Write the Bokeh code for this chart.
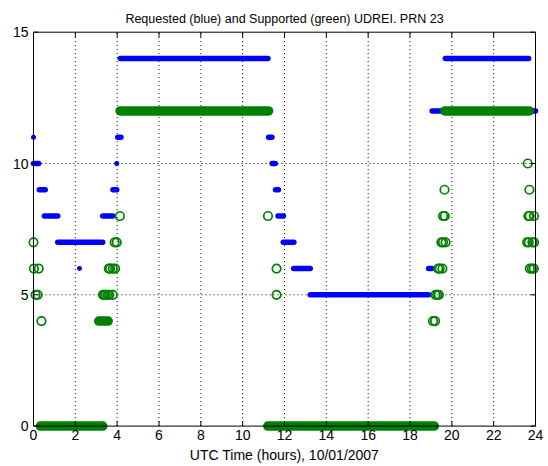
from bokeh.plotting import figure
from bokeh.models import Range1d, FixedTicker
from bokeh.embed import file_html
from bokeh.resources import INLINE

TITLE = "Requested (blue) and Supported (green) UDREI. PRN 23"
XLABEL = "UTC Time (hours), 10/01/2007"

x_ticks = [0, 2, 4, 6, 8, 10, 12, 14, 16, 18, 20, 22, 24]
y_ticks = [0, 5, 10, 15]

# Requested UDREI (blue): runs of constant value and isolated samples
blue_run_start = [0.00, 0.28, 0.52, 1.16, 3.31, 3.80, 4.03, 4.15, 11.24, 11.41,
                  11.57, 11.69, 11.94, 12.44, 13.23, 18.89, 19.06, 19.69]
blue_run_end = [0.25, 0.56, 1.16, 3.31, 3.79, 3.98, 4.18, 11.21, 11.40, 11.56,
                11.71, 11.95, 12.45, 13.23, 18.89, 19.05, 24.00, 23.67]
blue_run_udrei = [10, 9, 8, 7, 8, 9, 11, 14, 11, 10, 9, 8, 7, 6, 5, 6, 12, 14]
blue_pt_time = [0.00, 2.20, 3.98]
blue_pt_udrei = [11, 6, 10]

# Supported UDREI (green): runs of constant value and isolated samples
green_run_start = [0.33, 3.12, 4.14, 11.20, 19.67]
green_run_end = [3.31, 3.57, 11.24, 19.16, 23.70]
green_run_udrei = [0, 4, 12, 0, 12]
green_pt_time = [0.00, 0.02, 0.25, 0.10, 0.20, 0.38,
                 3.32, 3.38, 3.45, 3.55, 3.62, 3.79,
                 3.60, 3.66, 3.79, 3.90,
                 3.88, 3.98,
                 4.13,
                 11.21, 11.62, 11.62,
                 19.10, 19.20,
                 19.22, 19.30, 19.38,
                 19.35, 19.42, 19.55,
                 19.50, 19.58, 19.70,
                 19.58, 19.66,
                 19.65,
                 23.63,
                 23.71,
                 23.66, 23.72, 23.93,
                 23.60, 23.68, 23.85, 23.93,
                 23.73, 23.83, 23.92]
green_pt_udrei = [7, 6, 6, 5, 5, 4,
                  5, 5, 5, 5, 5, 5,
                  6, 6, 6, 6,
                  7, 7,
                  8,
                  8, 6, 5,
                  4, 4,
                  5, 5, 5,
                  6, 6, 6,
                  7, 7, 7,
                  8, 8,
                  9,
                  10,
                  9,
                  8, 8, 8,
                  7, 7, 7, 7,
                  6, 6, 6]

BLUE = "#0000ff"
GREEN = "#008000"
FONT = "Liberation Sans"

# ---- layout (pixels) ----
W, H = 548, 466
BOX_L, BOX_R, BOX_T, BOX_B = 33.0, 535.0, 31.7, 425.6   # axes box
FR_L, FR_R, FR_T, FR_B = 27, 541, 30, 431               # plot frame (a bit larger)
TICK = 5.0
x_min, x_max = x_ticks[0], x_ticks[-1]
y_min, y_max = y_ticks[0], y_ticks[-1]
sx = (BOX_R - BOX_L) / (x_max - x_min)
sy = (BOX_B - BOX_T) / (y_max - y_min)

p = figure(width=W, height=H,
           x_range=Range1d(x_min - (BOX_L - FR_L) / sx, x_max + (FR_R - BOX_R) / sx),
           y_range=Range1d(y_min - (FR_B - BOX_B) / sy, y_max + (BOX_T - FR_T) / sy),
           min_border_left=FR_L, min_border_right=W - FR_R,
           min_border_top=FR_T, min_border_bottom=H - FR_B,
           toolbar_location=None, output_backend="svg")
p.outline_line_color = None
p.background_fill_color = "white"
p.border_fill_color = "white"
p.grid.visible = False

p.title.text = TITLE
p.title.align = "center"
p.title.text_font = FONT
p.title.text_font_size = "12.5px"
p.title.text_font_style = "normal"
p.title.text_color = "black"
p.title.standoff = 9

for ax, ticks in ((p.xaxis[0], x_ticks), (p.yaxis[0], y_ticks)):
    ax.ticker = FixedTicker(ticks=ticks)
    ax.axis_line_color = None
    ax.major_tick_line_color = None
    ax.minor_tick_line_color = None
    ax.major_tick_in = 0
    ax.major_tick_out = 0
    ax.major_label_text_font = FONT
    ax.major_label_text_font_size = "14px"
    ax.major_label_text_color = "black"
p.xaxis[0].major_label_standoff = -2
p.yaxis[0].major_label_standoff = -1
p.xaxis[0].axis_label = XLABEL
p.xaxis[0].axis_label_standoff = 4
p.xaxis[0].axis_label_text_font = FONT
p.xaxis[0].axis_label_text_font_size = "14px"
p.xaxis[0].axis_label_text_font_style = "normal"
p.xaxis[0].axis_label_text_color = "black"

# dotted grid inside the box
xg = x_ticks[1:-1]
yg = y_ticks[1:-1]
p.segment(x0=xg, y0=[y_min] * len(xg), x1=xg, y1=[y_max] * len(xg),
          line_color="black", line_width=1, line_dash="1 3")
p.segment(x0=[x_min] * len(yg), y0=yg, x1=[x_max] * len(yg), y1=yg,
          line_color="black", line_width=1, line_dash="1 3")

# requested (blue)
p.segment(x0=blue_run_start, y0=blue_run_udrei, x1=blue_run_end, y1=blue_run_udrei,
          line_color=BLUE, line_width=5.5, line_cap="round")
p.scatter(x=blue_pt_time, y=blue_pt_udrei, marker="circle", size=5,
          fill_color=BLUE, line_color=None)

# supported (green)
p.segment(x0=green_run_start, y0=green_run_udrei, x1=green_run_end, y1=green_run_udrei,
          line_color=GREEN, line_width=9.5, line_cap="round")
p.scatter(x=green_pt_time, y=green_pt_udrei, marker="circle", size=8.5,
          fill_color=None, line_color=GREEN, line_width=1.7)

# axes box with inward ticks on all four sides (drawn on top, as in the original)
p.segment(x0=[x_min, x_max, x_min, x_min], y0=[y_min, y_min, y_min, y_max],
          x1=[x_min, x_max, x_max, x_max], y1=[y_max, y_max, y_min, y_max],
          line_color="black", line_width=1)
nx, ny = len(x_ticks), len(y_ticks)
p.segment(x0=x_ticks + x_ticks, y0=[y_min] * nx + [y_max] * nx,
          x1=x_ticks + x_ticks, y1=[y_min + TICK / sy] * nx + [y_max - TICK / sy] * nx,
          line_color="black", line_width=1)
p.segment(x0=[x_min] * ny + [x_max] * ny, y0=y_ticks + y_ticks,
          x1=[x_min + TICK / sx] * ny + [x_max - TICK / sx] * ny, y1=y_ticks + y_ticks,
          line_color="black", line_width=1)

open("out.html", "w").write(file_html(p, INLINE))
